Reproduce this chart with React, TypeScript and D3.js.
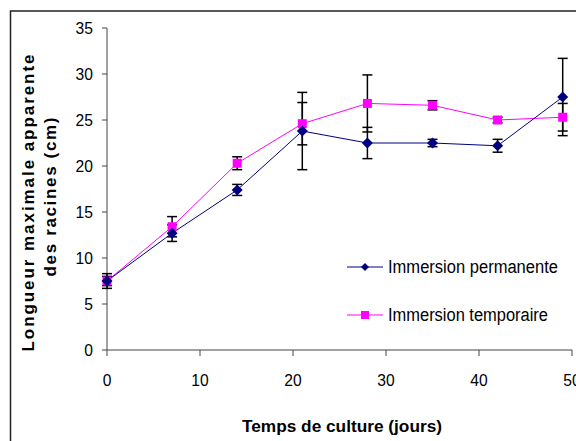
import React from "react";
import * as d3 from "d3";

const days = [0, 7, 14, 21, 28, 35, 42, 49];
const permanente = [7.5, 12.7, 17.4, 23.8, 22.5, 22.5, 22.2, 27.5];
const permanenteErr = [0.8, 0.9, 0.6, 4.2, 1.7, 0.4, 0.7, 4.2];
const temporaire = [7.5, 13.4, 20.3, 24.6, 26.8, 26.6, 25.0, 25.3];
const temporaireErr = [0.5, 1.1, 0.7, 2.3, 3.1, 0.5, 0.3, 1.5];
const xTicks = [0, 10, 20, 30, 40, 50];
const yTicks = [0, 5, 10, 15, 20, 25, 30, 35];
const seriesNames = ["Immersion permanente", "Immersion temporaire"];
const xTitle = "Temps de culture (jours)";
const yTitle1 = "Longueur maximale apparente";
const yTitle2 = "des racines (cm)";

const BLUE = "#000080";
const PINK = "#FF00FF";
const FONT = "'Liberation Sans', Arial, sans-serif";

export default function App() {
  const x = d3.scaleLinear().domain([0, 50]).range([107, 572]);
  const y = d3.scaleLinear().domain([0, 35]).range([350, 28]);
  const line = d3
    .line<number>()
    .x((_, i) => x(days[i]))
    .y((d) => y(d));

  const diamond = (cx: number, cy: number, r = 5.5) =>
    `M${cx},${cy - r}L${cx + r},${cy}L${cx},${cy + r}L${cx - r},${cy}Z`;

  const errBars = (vals: number[], errs: number[], key: string) =>
    vals.map((v, i) => {
      const cx = x(days[i]);
      const y1 = y(v + errs[i]);
      const y2 = y(v - errs[i]);
      return (
        <g key={key + i} stroke="#000" strokeWidth={1.5}>
          <line x1={cx} x2={cx} y1={y1} y2={y2} />
          <line x1={cx - 5} x2={cx + 5} y1={y1} y2={y1} />
          <line x1={cx - 5} x2={cx + 5} y1={y2} y2={y2} />
        </g>
      );
    });

  return (
    <svg
      width={576}
      height={441}
      style={{ position: "absolute", left: 0, top: 0, background: "#fff" }}
      fontFamily={FONT}
    >
      <rect x={10.5} y={11} width={700} height={600} fill="none" stroke="#222" strokeWidth={1.5} />

      {/* axes */}
      <line x1={107} x2={107} y1={y(35)} y2={y(0)} stroke="#444" strokeWidth={1} />
      <line x1={107} x2={x(50)} y1={y(0)} y2={y(0)} stroke="#444" strokeWidth={1} />
      {yTicks.map((t) => (
        <g key={"yt" + t}>
          <line x1={102} x2={107} y1={y(t)} y2={y(t)} stroke="#444" />
          <text
            x={93}
            y={y(t)}
            dy="0.35em"
            textAnchor="end"
            fontSize={17}
            fill="#000"
            transform={`translate(93,${y(t)}) scale(0.92,1) translate(-93,${-y(t)})`}
          >
            {t}
          </text>
        </g>
      ))}
      {xTicks.map((t) => (
        <g key={"xt" + t}>
          <line x1={x(t)} x2={x(t)} y1={y(0)} y2={y(0) + 6} stroke="#444" />
          <text
            x={x(t)}
            y={380}
            dy="0.35em"
            textAnchor="middle"
            fontSize={17}
            fill="#000"
            transform={`translate(${x(t)},380) scale(0.92,1) translate(${-x(t)},-380)`}
          >
            {t}
          </text>
        </g>
      ))}

      {/* titles */}
      <text
        x={342}
        y={432}
        textAnchor="middle"
        fontSize={17}
        fontWeight="bold"
        textLength={200}
        lengthAdjust="spacingAndGlyphs"
      >
        {xTitle}
      </text>
      <text
        transform="translate(34,203) rotate(-90)"
        textAnchor="middle"
        fontSize={17}
        fontWeight="bold"
        textLength={297}
        lengthAdjust="spacing"
      >
        {yTitle1}
      </text>
      <text
        transform="translate(56,197) rotate(-90)"
        textAnchor="middle"
        fontSize={17}
        fontWeight="bold"
        textLength={159}
        lengthAdjust="spacing"
      >
        {yTitle2}
      </text>

      {/* error bars */}
      {errBars(permanente, permanenteErr, "pe")}
      {errBars(temporaire, temporaireErr, "te")}

      {/* lines */}
      <path d={line(temporaire) || ""} fill="none" stroke={PINK} strokeWidth={1} />
      <path d={line(permanente) || ""} fill="none" stroke={BLUE} strokeWidth={1} />

      {/* markers */}
      {temporaire.map((v, i) => (
        <rect key={"tm" + i} x={x(days[i]) - 4.5} y={y(v) - 4.5} width={9} height={9} fill={PINK} />
      ))}
      {permanente.map((v, i) => (
        <path key={"pm" + i} d={diamond(x(days[i]), y(v))} fill={BLUE} />
      ))}

      {/* legend */}
      <g>
        <line x1={347} x2={383} y1={267} y2={267} stroke={BLUE} strokeWidth={1} />
        <path d={diamond(365, 267, 4)} fill={BLUE} />
        <text x={388} y={267} dy="0.36em" fontSize={18} textLength={170} lengthAdjust="spacingAndGlyphs">
          {seriesNames[0]}
        </text>
        <line x1={347} x2={383} y1={315} y2={315} stroke={PINK} strokeWidth={1} />
        <rect x={361} y={311} width={8} height={8} fill={PINK} />
        <text x={388} y={315} dy="0.36em" fontSize={18} textLength={160} lengthAdjust="spacingAndGlyphs">
          {seriesNames[1]}
        </text>
      </g>
    </svg>
  );
}
